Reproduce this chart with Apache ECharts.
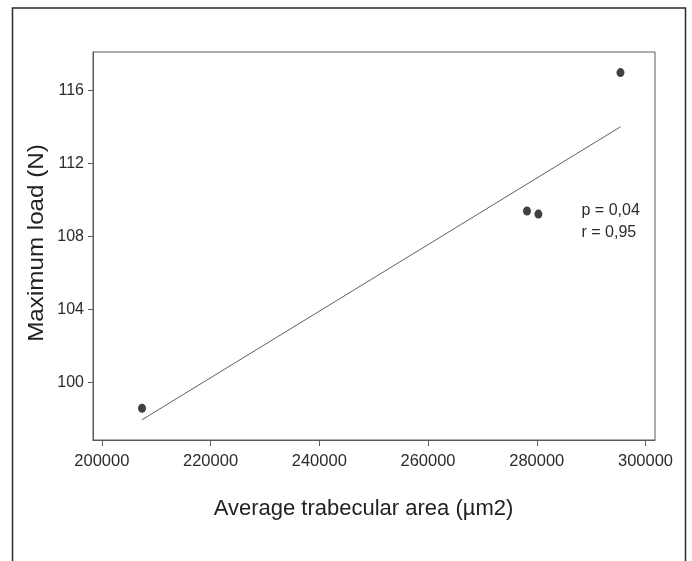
<!DOCTYPE html>
<html>
<head>
<meta charset="utf-8">
<script src="https://cdn.jsdelivr.net/npm/echarts@6/dist/echarts.min.js"></script>
<style>
  html, body { margin: 0; padding: 0; background: #fff; }
  #chart { width: 692px; height: 561px; }
</style>
</head>
<body>
<div id="chart"></div>
<script>
// Average trabecular area (µm2) for each specimen
const trabecularArea = [207400, 278200, 280300, 295400];
// Maximum load (N) for each specimen
const maximumLoad = [98.58, 109.39, 109.22, 116.97];
// End points of the fitted regression line
const fitArea = [207400, 295400];
const fitLoad = [97.95, 114.0];
// Tick values shown on each axis
const xTicks = [200000, 220000, 240000, 260000, 280000, 300000];
const yTicks = [100, 104, 108, 112, 116];
// Statistics annotation
const statLines = ['p = 0,04', 'r = 0,95'];

const FONT = '"Liberation Sans", Arial, Helvetica, sans-serif';

const points = trabecularArea.map((a, i) => [a, maximumLoad[i]]);
const fitLine = fitArea.map((a, i) => [a, fitLoad[i]]);

const chart = echarts.init(document.getElementById('chart'), null, { renderer: 'canvas' });

chart.setOption({
  backgroundColor: '#ffffff',
  animation: false,
  grid: {
    left: 93, top: 52, right: 37, bottom: 121,
    show: true, borderColor: '#5a5a5a', borderWidth: 1, backgroundColor: 'transparent'
  },
  xAxis: {
    type: 'value',
    min: 198380, max: 301750,
    axisLine: { show: true, lineStyle: { color: '#5a5a5a', width: 1 } },
    axisTick: { show: true, length: 6, inside: false, customValues: xTicks, lineStyle: { color: '#5a5a5a' } },
    axisLabel: {
      customValues: xTicks, margin: 13, fontFamily: FONT, fontSize: 16.5, color: '#2b2b2b',
      formatter: v => String(v)
    },
    splitLine: { show: false }
  },
  yAxis: {
    type: 'value',
    min: 96.84, max: 118.1,
    axisLine: { show: true, lineStyle: { color: '#5a5a5a', width: 1 } },
    axisTick: { show: true, length: 5, inside: false, customValues: yTicks, lineStyle: { color: '#5a5a5a' } },
    axisLabel: {
      customValues: yTicks, margin: 9, fontFamily: FONT, fontSize: 16, color: '#2b2b2b',
      formatter: v => String(v)
    },
    splitLine: { show: false }
  },
  series: [
    {
      type: 'line',
      data: fitLine,
      symbol: 'none',
      lineStyle: { color: '#606060', width: 1 },
      silent: true,
      z: 2
    },
    {
      type: 'scatter',
      data: points,
      symbol: 'circle',
      symbolSize: [8, 9],
      itemStyle: { color: '#111111' },
      z: 3
    }
  ],
  graphic: [
    {
      type: 'rect',
      shape: { x: 12.5, y: 8, width: 673, height: 600 },
      style: { fill: 'none', stroke: '#2a2a2a', lineWidth: 1.5 },
      silent: true
    },
    {
      type: 'text',
      x: 363.5, y: 509,
      style: {
        text: 'Average trabecular area (µm2)',
        font: '22px ' + FONT, fill: '#222222',
        textAlign: 'center', textVerticalAlign: 'middle'
      }
    },
    {
      type: 'text',
      x: 37, y: 243,
      rotation: Math.PI / 2,
      scaleX: 1.1,
      style: {
        text: 'Maximum load (N)',
        font: '22px ' + FONT, fill: '#222222',
        textAlign: 'center', textVerticalAlign: 'middle'
      }
    },
    {
      type: 'text',
      x: 581.5, y: 210.5,
      style: {
        text: statLines[0],
        font: '16px ' + FONT, fill: '#2b2b2b',
        textAlign: 'left', textVerticalAlign: 'middle'
      }
    },
    {
      type: 'text',
      x: 581.5, y: 232.5,
      style: {
        text: statLines[1],
        font: '16px ' + FONT, fill: '#2b2b2b',
        textAlign: 'left', textVerticalAlign: 'middle'
      }
    }
  ]
});
</script>
</body>
</html>
